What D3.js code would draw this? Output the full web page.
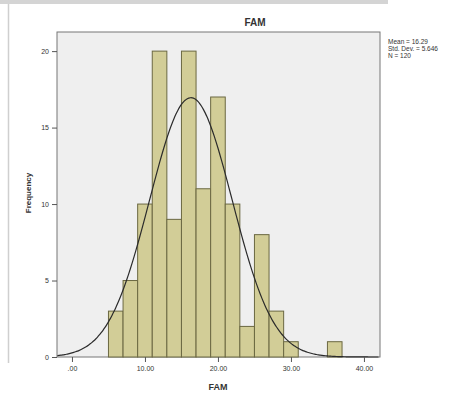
<!DOCTYPE html>
<html>
<head>
<meta charset="utf-8">
<script src="https://cdn.jsdelivr.net/npm/d3@7"></script>
<style>
  body { margin: 0; background: #fff; }
  svg { display: block; font-family: Arial, "Liberation Sans", sans-serif; }
</style>
</head>
<body>
<svg id="chart" width="457" height="398"></svg>
<script>
// histogram bins of FAM (lower edge, width 2)
const binStarts = [5, 7, 9, 11, 13, 15, 17, 19, 21, 23, 25, 27, 29, 31, 33, 35];
const counts    = [3, 5, 10, 20, 9, 20, 11, 17, 10, 2, 8, 3, 1, 0, 0, 1];
const binWidth = 2;
const xTicks = [0, 10, 20, 30, 40];
const yTicks = [0, 5, 10, 15, 20];
const stats = { mean: 16.29, sd: 5.646, n: 120 };
const statLines = ['Mean = 16.29', 'Std. Dev. = 5.646', 'N = 120'];

const svg = d3.select('#chart');

// screenshot framing
svg.append('rect').attr('x', 0).attr('y', 0).attr('width', 388).attr('height', 4).attr('fill', '#d4d4d4');
svg.append('line').attr('x1', 8.5).attr('x2', 8.5).attr('y1', 4).attr('y2', 363)
  .attr('stroke', '#cfcfcf').attr('stroke-width', 1.5);

const plot = { left: 57, right: 380, top: 32, bottom: 357 };

const x = d3.scaleLinear().domain([-2.05, 42.2]).range([plot.left, plot.right]);
const y = d3.scaleLinear().domain([0, 21.25]).range([plot.bottom, plot.top]);

// plot background
svg.append('rect')
  .attr('x', plot.left).attr('y', plot.top)
  .attr('width', plot.right - plot.left).attr('height', plot.bottom - plot.top)
  .attr('fill', '#efefef').attr('stroke', '#777').attr('stroke-width', 1);

// bars
svg.append('g').selectAll('rect')
  .data(binStarts.map((s, i) => ({ s, c: counts[i] })).filter(d => d.c > 0))
  .enter()
  .append('rect')
  .attr('x', d => x(d.s))
  .attr('y', d => y(d.c))
  .attr('width', d => x(d.s + binWidth) - x(d.s))
  .attr('height', d => y(0) - y(d.c))
  .attr('fill', '#d2cd97')
  .attr('stroke', '#6b6842')
  .attr('stroke-width', 1);

// normal curve
const scale = stats.n * binWidth / (stats.sd * Math.sqrt(2 * Math.PI));
const curvePts = d3.range(-2, 42.2, 0.25).map(v => [v, scale * Math.exp(-0.5 * Math.pow((v - stats.mean) / stats.sd, 2))]);
svg.append('path')
  .datum(curvePts)
  .attr('fill', 'none')
  .attr('stroke', '#2b2b2b')
  .attr('stroke-width', 1.2)
  .attr('d', d3.line().x(d => x(d[0])).y(d => y(d[1])).curve(d3.curveBasis));

// axes
const xAxis = svg.append('g')
  .attr('transform', `translate(0,${plot.bottom})`)
  .call(d3.axisBottom(x).tickValues(xTicks).tickSize(5).tickSizeOuter(0)
    .tickFormat(d => d === 0 ? '.00' : d3.format('.2f')(d)));
xAxis.select('.domain').remove();
xAxis.selectAll('line').attr('stroke', '#555');
xAxis.selectAll('text').attr('fill', '#333').style('font-size', '7px').attr('dy', '0.9em');

const yAxis = svg.append('g')
  .attr('transform', `translate(${plot.left},0)`)
  .call(d3.axisLeft(y).tickValues(yTicks).tickSize(5).tickSizeOuter(0));
yAxis.select('.domain').remove();
yAxis.selectAll('line').attr('stroke', '#555');
yAxis.selectAll('text').attr('fill', '#333').style('font-size', '7px');

// titles
svg.append('text').attr('x', 255).attr('y', 26).attr('text-anchor', 'middle')
  .style('font-size', '10px').style('font-weight', 'bold').attr('fill', '#333').text('FAM');
svg.append('text').attr('x', 218).attr('y', 390).attr('text-anchor', 'middle')
  .style('font-size', '9px').style('font-weight', 'bold').attr('fill', '#333').text('FAM');
svg.append('text')
  .attr('transform', `translate(31,193) rotate(-90)`)
  .attr('text-anchor', 'middle')
  .style('font-size', '8px').style('font-weight', 'bold').attr('fill', '#333').text('Frequency');

// stats legend
svg.append('g').selectAll('text')
  .data(statLines)
  .enter()
  .append('text')
  .attr('x', 388)
  .attr('y', (d, i) => 44 + i * 6.8)
  .style('font-size', '6.5px')
  .attr('fill', '#333')
  .text(d => d);
</script>
</body>
</html>
